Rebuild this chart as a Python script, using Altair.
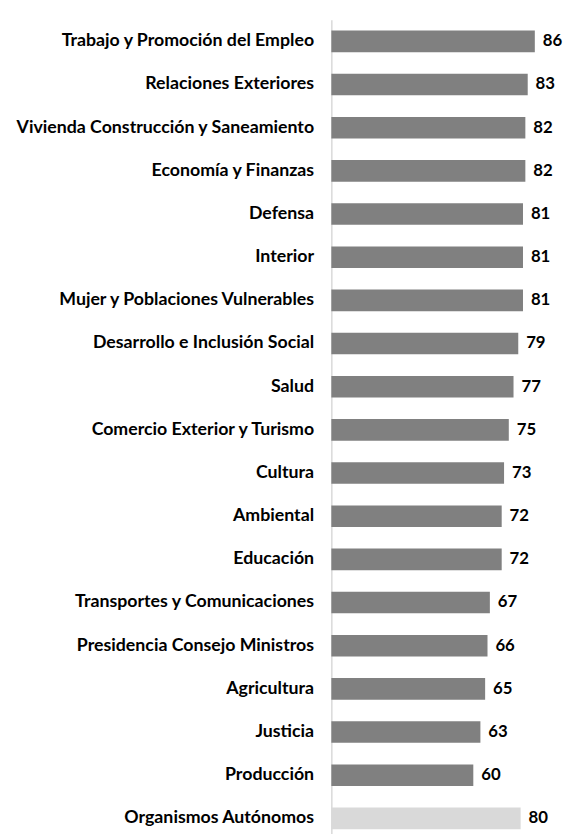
import altair as alt
import pandas as pd

categories = [
    "Trabajo y Promoción del Empleo",
    "Relaciones Exteriores",
    "Vivienda Construcción y Saneamiento",
    "Economía y Finanzas",
    "Defensa",
    "Interior",
    "Mujer y Poblaciones Vulnerables",
    "Desarrollo e Inclusión Social",
    "Salud",
    "Comercio Exterior y Turismo",
    "Cultura",
    "Ambiental",
    "Educación",
    "Transportes y Comunicaciones",
    "Presidencia Consejo Ministros",
    "Agricultura",
    "Justicia",
    "Producción",
    "Organismos Autónomos",
]
values = [86, 83, 82, 82, 81, 81, 81, 79, 77, 75, 73, 72, 72, 67, 66, 65, 63, 60, 80]
groups = ["Ministerio"] * 18 + ["Autónomo"]

df = pd.DataFrame({"cat": categories, "val": values, "grp": groups})

FONT = "Lato"

y = alt.Y(
    "cat:N",
    sort=categories,
    title=None,
    scale=alt.Scale(range=[0, 832], paddingInner=0.5, paddingOuter=0.25),
    axis=alt.Axis(
        ticks=False,
        tickSize=0,
        labelPadding=18,
        labelFont=FONT,
        labelFontWeight="bold",
        labelFontSize=18,
        labelColor="#000000",
        labelLimit=400,
        domainColor="#d9d9d9",
        domainWidth=1.5,
        grid=False,
    ),
)
x = alt.X(
    "val:Q",
    title=None,
    scale=alt.Scale(domain=[0, 95], nice=False),
    axis=None,
)

bars = alt.Chart(df).mark_bar().encode(
    x=x,
    y=y,
    color=alt.Color(
        "grp:N",
        scale=alt.Scale(domain=["Ministerio", "Autónomo"], range=["#808080", "#d9d9d9"]),
        legend=None,
    ),
)

labels = alt.Chart(df).mark_text(
    align="left", baseline="middle", dx=8, font=FONT, fontWeight="bold", fontSize=17, color="#000000"
).encode(x=x, y=y, text="val:Q")

chart = (
    alt.layer(bars, labels)
    .properties(
        width=228,
        height=820,
        autosize=alt.AutoSizeParams(type="none"),
        padding={"left": 328, "top": 6, "right": 8, "bottom": 0},
    )
    .configure_view(stroke=None)
)

chart.save("out.html", embed_options={"renderer": "svg", "actions": False})
